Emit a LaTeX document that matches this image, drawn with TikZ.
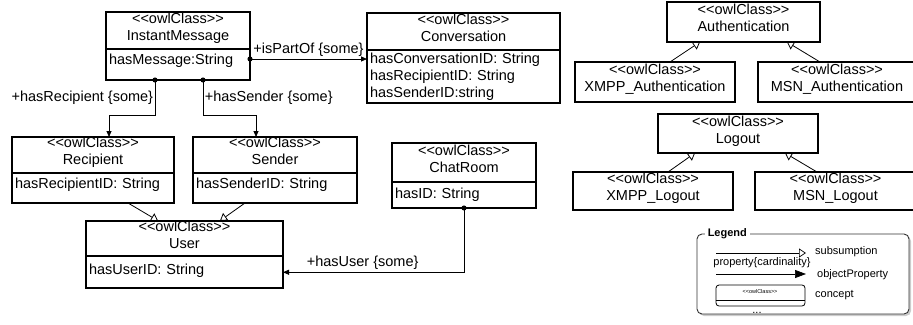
\documentclass[tikz,border=0pt]{standalone}
\usepackage{fontspec}
\setmainfont{Liberation Sans}
\usetikzlibrary{arrows.meta,shadows}

\newcommand{\owlst}{<\kern0pt<owlClass>\kern0pt>}

\tikzset{
	owl/.style={draw,line width=1.6pt,inner sep=0pt,outer sep=0pt,align=center,text depth=8pt,font=\fontsize{14.5}{17}\selectfont},
	slot/.style={draw,line width=1.6pt,inner xsep=3pt,inner ysep=0pt,outer sep=0pt,align=left,anchor=north,text depth=8pt,font=\fontsize{14.5}{17}\selectfont},
	prop/.style={line width=0.8pt,shorten <=-2.5pt,{Circle[length=5pt]}-{Triangle[length=6pt,width=5pt]}},
	isa/.style={line width=0.8pt,-{Triangle[open,length=7pt,width=9pt]}},
	lbl/.style={font=\fontsize{14.5}{17}\selectfont,inner sep=2pt},
	legtxt/.style={font=\fontsize{11}{13}\selectfont,inner sep=0pt,anchor=west},
}

\begin{document}
\begin{tikzpicture}[x=1pt,y=-1pt]
	\useasboundingbox (0,0) rectangle (913,324);
	% chat classes
	\node[owl,minimum width=144pt,minimum height=37pt] (im) at (178,30.5) {\owlst\\InstantMessage};
	\node[slot,minimum width=144pt,minimum height=31pt,text width=138pt,text depth=11pt] (imA) at (im.south) {hasMessage:String};
	\node[owl,minimum width=193pt,minimum height=37pt] (cv) at (463.5,31.5) {\owlst\\Conversation};
	\node[slot,minimum width=193pt,minimum height=53pt,text width=187pt,text depth={}] (cvA) at (cv.south) {hasConversationID: String\\hasRecipientID: String\\hasSenderID:string};
	\node[owl,minimum width=162pt,minimum height=36pt] (rc) at (93,155) {\owlst\\Recipient};
	\node[slot,minimum width=162pt,minimum height=30pt,text width=156pt,text depth=10pt] (rcA) at (rc.south) {hasRecipientID: String};
	\node[owl,minimum width=164pt,minimum height=36pt] (sd) at (275,155) {\owlst\\Sender};
	\node[slot,minimum width=164pt,minimum height=30pt,text width=158pt,text depth=10pt] (sdA) at (sd.south) {hasSenderID: String};
	\node[owl,minimum width=197pt,minimum height=33pt] (us) at (184.5,238.5) {\owlst\\User};
	\node[slot,minimum width=197pt,minimum height=32pt,text width=191pt,text depth=6pt] (usA) at (us.south) {hasUserID: String};
	\node[owl,minimum width=144pt,minimum height=39pt] (cr) at (464,162.5) {\owlst\\ChatRoom};
	\node[slot,minimum width=144pt,minimum height=26pt,text width=138pt,text depth=4pt] (crA) at (cr.south) {hasID: String};

	\draw[prop] ([yshift=5.5pt]imA.east) -- node[lbl,above]{+isPartOf \{some\}} ([yshift=5.5pt]imA.east -| cvA.west);
	\draw[prop] ([xshift=-23pt]imA.south) -- node[lbl,left,inner sep=1.5pt]{+hasRecipient \{some\}} ++(0,35) -| ([xshift=16pt]rc.north);
	\draw[prop] ([xshift=25pt]imA.south) -- node[lbl,right,inner sep=1.5pt]{+hasSender \{some\}} ++(0,35) -| ([xshift=-19pt]sd.north);
	\draw[isa] ([xshift=35pt]rcA.south) -- ([xshift=-26.5pt]us.north);
	\draw[isa] ([xshift=-30pt]sdA.south) -- ([xshift=35.5pt]us.north);
	\draw[prop] (crA.south) |- node[lbl,above,pos=0.78]{+hasUser \{some\}} (usA.east);

	% authentication and logout
	\node[owl,minimum width=153pt,minimum height=40pt] (au) at (743.5,22) {\owlst\\Authentication};
	\node[owl,minimum width=160pt,minimum height=40pt] (xa) at (655,82) {\owlst\\XMPP\_Authentication};
	\node[owl,minimum width=158pt,minimum height=40pt] (ma) at (837,82) {\owlst\\MSN\_Authentication};
	\node[owl,minimum width=160pt,minimum height=39pt] (lo) at (738,133.5) {\owlst\\Logout};
	\node[owl,minimum width=160pt,minimum height=38pt] (xl) at (653,191) {\owlst\\XMPP\_Logout};
	\node[owl,minimum width=161pt,minimum height=38pt] (ml) at (835.5,191) {\owlst\\MSN\_Logout};
	\draw[isa] ([xshift=15pt]xa.north) -- ([xshift=-43.5pt]au.south);
	\draw[isa] ([xshift=-17pt]ma.north) -- ([xshift=43.5pt]au.south);
	\draw[isa] ([xshift=15pt]xl.north) -- ([xshift=-43pt]lo.south);
	\draw[isa] ([xshift=-18.5pt]ml.north) -- ([xshift=47pt]lo.south);

	% legend
	\node[draw=black!80,line width=0.9pt,rounded corners=5pt,minimum width=212pt,minimum height=80pt,fill=white,drop shadow={shadow xshift=2pt,shadow yshift=-2pt,opacity=0.4}] (lg) at (803,274) {};
	\node[font=\bfseries\fontsize{11}{13}\selectfont,fill=white,inner xsep=3pt,inner ysep=1pt,anchor=west] (lgT) at ([xshift=8pt]lg.north west) {Legend};
	\coordinate (su1) at (716,253);
	\coordinate (su2) at (806,253);
	\draw[isa,line width=0.7pt] (su1) -- (su2);
	\node[legtxt] (suT) at (815,252) {subsumption};
	\node[legtxt,anchor=center] (pcT) at (762,263) {property\{cardinality\}};
	\coordinate (op1) at (716,274);
	\coordinate (op2) at (806,274);
	\draw[line width=0.7pt,-{Triangle[length=11pt,width=8pt]}] (op1) -- (op2);
	\node[legtxt] (opT) at (817,275) {objectProperty};
	\node[draw,rounded corners=3pt,line width=0.8pt,minimum width=89pt,minimum height=21pt] (cpB) at (760.5,295.5) {};
	\draw[line width=0.8pt] ([yshift=-4.5pt]cpB.west) -- ([yshift=-4.5pt]cpB.east);
	\node[font=\fontsize{5.5}{6}\selectfont,inner sep=0pt] (cpS) at (760,292) {\owlst};
	\node[legtxt] (cpT) at (815,295) {concept};
	\node[legtxt,anchor=base] (dots) at (757,313) {...};
\end{tikzpicture}
\end{document}
